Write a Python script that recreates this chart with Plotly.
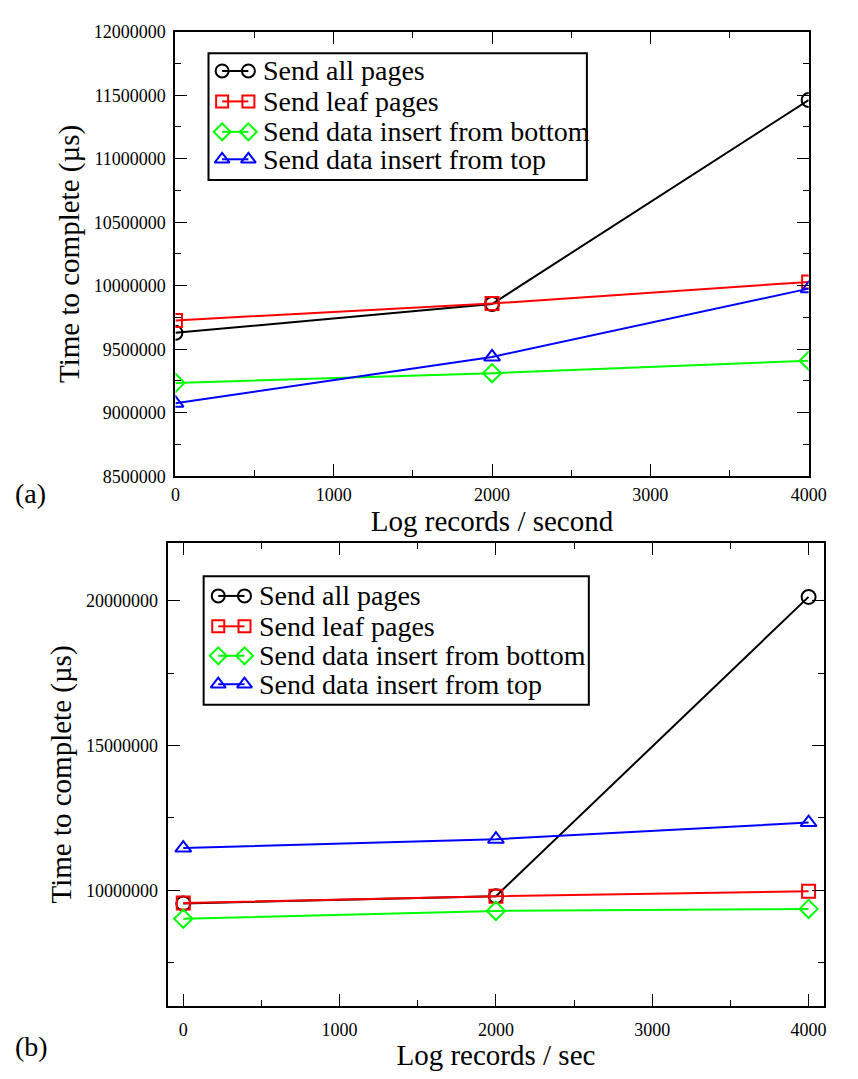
import plotly.graph_objects as go

# ---- data ----
x_vals = [0, 2000, 4000]
series_names = ["Send all pages", "Send leaf pages", "Send data insert from bottom", "Send data insert from top"]

# panel (a)
a_all = [9629000, 9856000, 11462000]
a_leaf = [9727000, 9860000, 10030000]
a_bottom = [9235000, 9311000, 9409000]
a_top = [9075000, 9439000, 9977000]

# panel (b)
b_all = [9545000, 9797000, 20136000]
b_leaf = [9560000, 9797000, 9966000]
b_bottom = [9017000, 9288000, 9356000]
b_top = [11458000, 11763000, 12339000]

colors = ["#000000", "#ff0000", "#00ff00", "#0000ff"]
symbols = ["circle-open", "square-open", "diamond-open", "triangle-up-open"]
sizes = [14, 13, 14, 14]

FONT = "Liberation Serif"
PAGE_W, PAGE_H = 858, 1079
OFF = 8  # default page body margin
FW, FH = PAGE_W - 2 * OFF, PAGE_H - 2 * OFF
LW = 2.0

fig = go.Figure()

for ser, name, c, s, sz in zip([a_all, a_leaf, a_bottom, a_top], series_names, colors, symbols, sizes):
    fig.add_trace(go.Scatter(x=x_vals, y=ser, name=name, mode="lines+markers",
                             line=dict(color=c, width=LW),
                             marker=dict(symbol=s, size=sz, color=c, line=dict(color=c, width=LW)),
                             xaxis="x", yaxis="y", showlegend=False))
for ser, name, c, s, sz in zip([b_all, b_leaf, b_bottom, b_top], series_names, colors, symbols, sizes):
    fig.add_trace(go.Scatter(x=x_vals, y=ser, name=name, mode="lines+markers",
                             line=dict(color=c, width=LW),
                             marker=dict(symbol=s, size=sz, color=c, line=dict(color=c, width=LW)),
                             xaxis="x2", yaxis="y2", showlegend=False))

def px_x(p):
    return max(0.0, (p - OFF) / FW)

def px_y(p):
    return min(1.0, 1 - (p - OFF) / FH)

# ---- custom legends (Grace style: marker-line-marker) on a pixel overlay axis ----
legend_boxes = [
    dict(x0=209, x1=598, y0=44, y1=173, rows=[62, 93, 124, 152], sym=(223, 250), text_x=263),
    dict(x0=204, x1=600, y0=577, y1=708, rows=[597, 628, 658, 687], sym=(219, 246), text_x=259),
]
shapes = []
annotations = []
for box in legend_boxes:
    shapes.append(dict(type="rect", xref="paper", yref="paper",
                       x0=px_x(box["x0"]), x1=px_x(box["x1"]),
                       y0=px_y(box["y1"]), y1=px_y(box["y0"]),
                       line=dict(color="black", width=2), fillcolor="rgba(0,0,0,0)", layer="above"))
    for ry, name, c, s, sz in zip(box["rows"], series_names, colors, symbols, sizes):
        fig.add_trace(go.Scatter(x=list(box["sym"]), y=[ry, ry], mode="lines+markers",
                                 line=dict(color=c, width=LW),
                                 marker=dict(symbol=s, size=sz - 1, color=c, line=dict(color=c, width=LW)),
                                 xaxis="x3", yaxis="y3", showlegend=False, hoverinfo="skip"))
        annotations.append(dict(text=name, x=px_x(box["text_x"]), y=px_y(ry), xref="paper", yref="paper",
                                xanchor="left", yanchor="middle", showarrow=False,
                                font=dict(family=FONT, size=28, color="black")))

annotations += [
    dict(text="(a)", x=0, y=px_y(493), xref="paper", yref="paper",
         xanchor="left", yanchor="middle", showarrow=False,
         font=dict(family=FONT, size=28, color="black")),
    dict(text="(b)", x=0, y=px_y(1056), xref="paper", yref="paper",
         xanchor="left", yanchor="middle", showarrow=False,
         font=dict(family=FONT, size=28, color="black")),
]

common = dict(showgrid=False, zeroline=False, showline=True, linecolor="black", linewidth=2,
              mirror="allticks", ticks="inside", ticklen=12, tickwidth=1.3, tickcolor="black",
              tickfont=dict(family=FONT, size=18, color="black"))
minor_common = dict(ticks="inside", ticklen=6, tickwidth=1.3, tickcolor="black")

fig.update_layout(
    width=FW, height=FH,
    margin=dict(l=0, r=0, t=0, b=0),
    paper_bgcolor="white", plot_bgcolor="rgba(0,0,0,0)",
    font=dict(family=FONT, color="black"),
    showlegend=False,
    xaxis=dict(domain=[px_x(175), px_x(826)], range=[0, 4000], dtick=1000, tick0=0,
               minor=dict(dtick=500, **minor_common),
               title=dict(text="Log records / second", font=dict(family=FONT, size=29), standoff=2),
               anchor="y", ticklabelstandoff=1, **common),
    yaxis=dict(domain=[px_y(475), px_y(22)], range=[8500000, 12000000], dtick=500000, tick0=0,
               tickformat="d",
               minor=dict(dtick=250000, **minor_common),
               title=dict(text="Time to complete (µs)", font=dict(family=FONT, size=29), standoff=6),
               anchor="x", ticklabelstandoff=4, **common),
    xaxis2=dict(domain=[px_x(167), px_x(842)], range=[-100, 4100], dtick=1000, tick0=0,
                minor=dict(dtick=500, **minor_common),
                title=dict(text="Log records / sec", font=dict(family=FONT, size=29), standoff=2),
                anchor="y2", ticklabelstandoff=6, **common),
    yaxis2=dict(domain=[px_y(1015), px_y(543)], range=[6000000, 22000000], dtick=5000000, tick0=0,
                tickformat="d",
                minor=dict(dtick=2500000, **minor_common),
                title=dict(text="Time to complete (µs)", font=dict(family=FONT, size=29), standoff=6),
                anchor="x2", ticklabelstandoff=4, **common),
    xaxis3=dict(domain=[0, 1], range=[OFF, OFF + FW], visible=False, fixedrange=True, anchor="y3"),
    yaxis3=dict(domain=[0, 1], range=[OFF + FH, OFF], visible=False, fixedrange=True, anchor="x3"),
    shapes=shapes,
    annotations=annotations,
)

fig.write_html("out.html", config={"displayModeBar": False})
